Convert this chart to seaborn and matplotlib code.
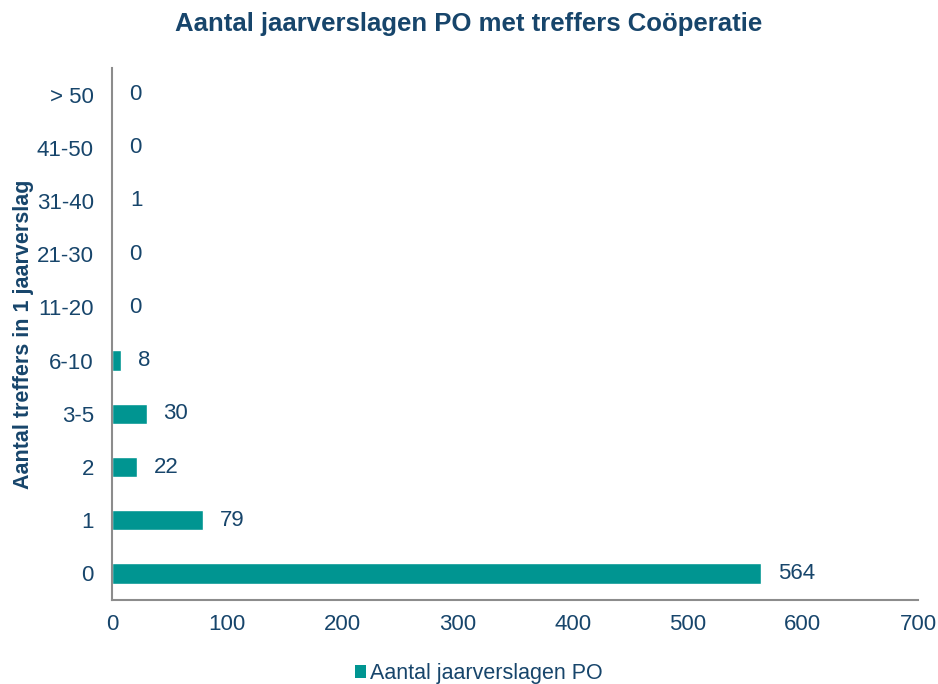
import numpy as np
import pandas as pd
import matplotlib
matplotlib.use('Agg')
import matplotlib.pyplot as plt
import seaborn as sns
from matplotlib.patches import Patch

# Gegevens
categories = ['> 50', '41-50', '31-40', '21-30', '11-20', '6-10', '3-5', '2', '1', '0']
values = [0, 0, 1, 0, 0, 8, 30, 22, 79, 564]
x_ticks = [0, 100, 200, 300, 400, 500, 600, 700]

teal = '#009591'
text_col = '#17456b'
axis_col = '#8c8c8c'

sns.set_theme(style='white')
plt.rcParams['font.family'] = ['Liberation Sans', 'DejaVu Sans']

df = pd.DataFrame({'categorie': categories, 'aantal': values})

fig = plt.figure(figsize=(9.38, 6.84), dpi=100)
ax = fig.add_axes([0.1194, 0.1228, 0.8593, 0.7778])

sns.barplot(data=df, x='aantal', y='categorie', orient='h', color=teal,
            saturation=1, width=0.38, ax=ax)

ax.set_xlim(0, 700)
ax.set_ylim(len(categories) - 0.5, -0.5)
ax.set_xticks(x_ticks)
ax.set_xticklabels([str(t) for t in x_ticks], fontsize=16, color=text_col)

# labels op categorieën, streepjes tussen categorieën
ax.set_yticks(np.arange(len(categories)))
ax.set_yticklabels(categories, fontsize=16, color=text_col)
ax.set_yticks(np.arange(len(categories) + 1) - 0.5, minor=True)
ax.tick_params(axis='y', which='major', length=0, pad=13)
ax.tick_params(axis='y', which='minor', length=5, width=1.2, color=axis_col, direction='out')
ax.tick_params(axis='x', length=5, width=1.2, color=axis_col, direction='out', pad=5)

for side in ['top', 'right']:
    ax.spines[side].set_visible(False)
for side in ['left', 'bottom']:
    ax.spines[side].set_color(axis_col)
    ax.spines[side].set_linewidth(1.5)

ax.bar_label(ax.containers[0], labels=[str(v) for v in values], padding=12,
             fontsize=16, color=text_col)

ax.set_xlabel('')
ax.set_ylabel('Aantal treffers in 1 jaarverslag', fontsize=15.5, fontweight='bold',
              color=text_col, labelpad=2)

fig.suptitle('Aantal jaarverslagen PO met treffers Coöperatie', x=0.5, y=0.982,
             fontsize=18.5, fontweight='bold', color=text_col)

handles = [Patch(facecolor=teal, edgecolor='none', label='Aantal jaarverslagen PO')]
leg = fig.legend(handles=handles, loc='lower center', bbox_to_anchor=(0.51, -0.028),
                 frameon=False, fontsize=15.5, handlelength=0.55, handleheight=0.55,
                 handletextpad=0.15)
for t in leg.get_texts():
    t.set_color(text_col)

fig.savefig('out.png', dpi=100)
